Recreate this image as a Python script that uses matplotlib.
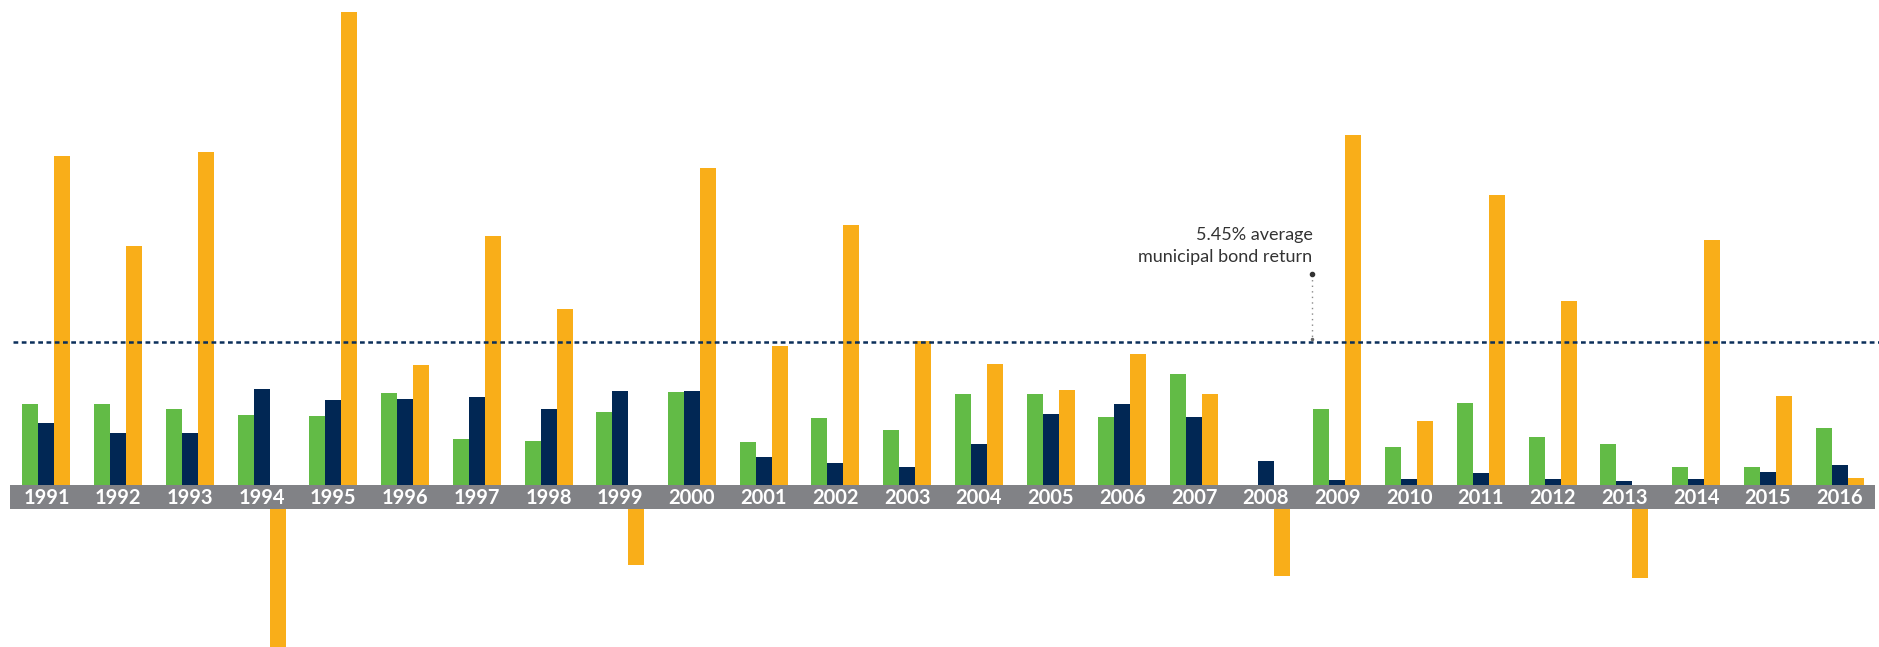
import matplotlib.pyplot as plt

# -----------------------------
# DATA (annual returns, %)
# -----------------------------
years = [str(y) for y in range(1991, 2017)]

green_vals = [2.99, 2.99, 2.80, 2.58, 2.55, 3.39, 1.70, 1.62, 2.69, 3.43,
              1.59, 2.47, 2.03, 3.36, 3.36, 2.51, 4.10, 0.00, 2.80, 1.40,
              3.03, 1.77, 1.51, 0.66, 0.66, 2.10]

navy_vals = [2.29, 1.92, 1.92, 3.54, 3.14, 3.17, 3.25, 2.80, 3.47, 3.47,
             1.03, 0.81, 0.66, 1.51, 2.62, 2.99, 2.51, 0.89, 0.18, 0.22,
             0.44, 0.22, 0.15, 0.22, 0.48, 0.74]

muni_vals = [12.14, 8.82, 12.28, -5.17, 17.46, 4.43, 9.19, 6.48, -2.06, 11.68,
             5.13, 9.60, 5.31, 4.48, 3.51, 4.84, 3.36, -2.47, 12.91, 2.38,
             10.70, 6.78, -2.55, 9.05, 3.30, 0.25]

avg_label = ["5.45% average", "municipal bond return"]
avg_line_level = 5.28   # where the dashed line sits in the picture

# -----------------------------
# STYLE
# -----------------------------
GREEN = "#62BB46"
NAVY = "#012754"
ORANGE = "#F9AE19"
BAND = "#818286"

plt.rcParams['font.family'] = ['Lato', 'DejaVu Sans']

fig = plt.figure(figsize=(18.79, 6.47), dpi=100)
ax = fig.add_axes([0, 0, 1, 1])

band_gap = 0.886   # height of the grey year strip, in % units
w = 0.223

x = list(range(len(years)))


def bottoms(vals):
    # negative bars hang below the grey strip
    return [0 if v >= 0 else -band_gap for v in vals]


for offset, vals, col in [(-w, green_vals, GREEN), (0, navy_vals, NAVY), (w, muni_vals, ORANGE)]:
    ax.bar([i + offset for i in x], vals, width=w, bottom=bottoms(vals),
           color=col, linewidth=0, zorder=2)

# grey year strip
ax.fill_between([-0.51, 25.5], -band_gap, 0, color=BAND, linewidth=0, zorder=3)
for i, yr in enumerate(years):
    ax.text(i, -band_gap / 2 - 0.02, yr, ha='center', va='center', color='white',
            fontsize=14.5, fontweight='bold', zorder=4)

# average line
ax.axhline(avg_line_level, xmin=13 / 1879, xmax=1, color="#0B2F5A", lw=1.8,
           dashes=(1.9, 1.4), zorder=5)

# callout
cx = 17.65
ax.plot([cx, cx], [7.8, avg_line_level + 0.12], color="#8a8a8a", lw=1,
        linestyle=(0, (1, 3)), zorder=5)
ax.plot([cx], [7.8], marker='o', markersize=3, color="#333333", zorder=6)
ax.plot([cx], [avg_line_level + 0.12], marker='o', markersize=1.5, color="#666666", zorder=6)
ax.text(cx, 9.04, avg_label[0], ha='right', va='baseline', fontsize=13, color="#333333")
ax.text(cx, 8.23, avg_label[1], ha='right', va='baseline', fontsize=13, color="#333333")

ax.set_xlim(-0.648, 25.55)
ax.set_ylim(-5.978, 17.897)
ax.axis('off')

plt.savefig("out.png", dpi=100)
